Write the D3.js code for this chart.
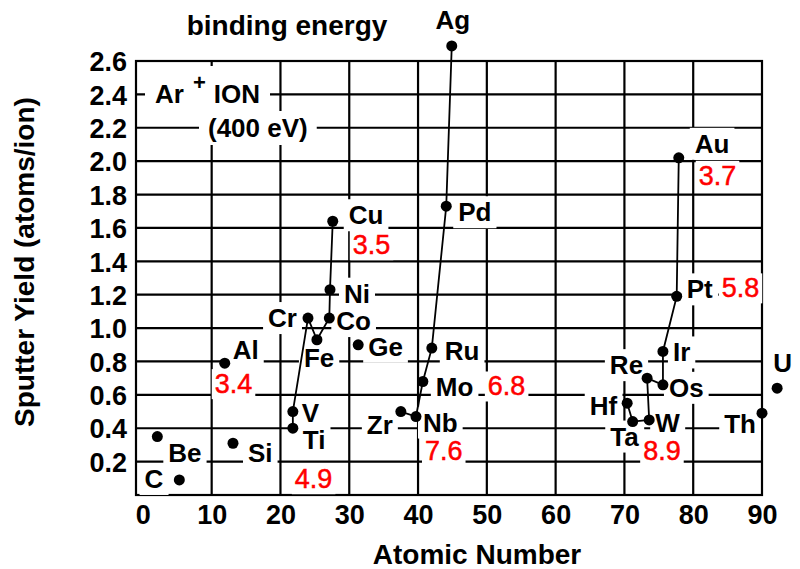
<!doctype html>
<html lang="en">
<head>
<meta charset="utf-8">
<title>Sputter yield vs atomic number</title>
<script src="https://cdn.jsdelivr.net/npm/d3@7"></script>
<style>
  body { margin: 0; background: #fff; }
  svg { display: block; }
  text { font-family: "Liberation Sans", Arial, Helvetica, sans-serif; }
</style>
</head>
<body>
<script>

// Data
var elements = ["Be", "C", "Al", "Si", "Ti", "V", "Cr", "Fe", "Co", "Ni", "Cu", "Ge",
                "Zr", "Nb", "Mo", "Ru", "Pd", "Ag",
                "Hf", "Ta", "W", "Re", "Os", "Ir", "Pt", "Au", "Th", "U"];
var atomicNumber = [2.1, 5.3, 11.9, 13.1, 21.8, 21.8, 24.0, 25.3, 27.1, 27.2, 27.6, 31.3,
                    37.5, 39.7, 40.7, 42.0, 44.1, 44.9,
                    70.4, 71.2, 73.6, 73.3, 75.6, 75.6, 77.6, 77.9, 90.0, 92.2];
var sputterYield = [0.35, 0.09, 0.79, 0.31, 0.40, 0.50, 1.06, 0.93, 1.06, 1.23, 1.64, 0.90,
                    0.50, 0.47, 0.68, 0.88, 1.73, 2.69,
                    0.55, 0.44, 0.45, 0.70, 0.66, 0.86, 1.19, 2.02, 0.49, 0.64];

// connected groups (transition-metal rows)
var rows = [
  ["Ti", "V", "Cr", "Fe", "Co", "Ni", "Cu"],
  ["Zr", "Nb", "Mo", "Ru", "Pd", "Ag"],
  ["Hf", "Ta", "W", "Re", "Os", "Ir", "Pt", "Au"]
];

// binding energy notes (red)
var energyElement = ["Al", "Cu", "Ti", "Mo", "Nb", "Au", "Pt", "W"];
var energyValue = ["3.4", "3.5", "4.9", "6.8", "7.6", "3.7", "5.8", "8.9"];

var xTicks = [0, 10, 20, 30, 40, 50, 60, 70, 80, 90];
var yTicks = [0.2, 0.4, 0.6, 0.8, 1.0, 1.2, 1.4, 1.6, 1.8, 2.0, 2.2, 2.4, 2.6];

// label placement (pixels relative to the dot)
var labelPos = {
  Be: [11, 25, "start"], C: [-16, 8, "end"], Al: [8, -4, "start"], Si: [15, 19, "start"],
  Ti: [10, 21, "start"], V: [9, 10, "start"], Cr: [-11, 9, "end"], Fe: [-13, 27, "start"],
  Co: [7, 12, "start"], Ni: [14, 13, "start"], Cu: [16, 3, "start"], Ge: [10, 11, "start"],
  Zr: [-8, 22, "end"], Nb: [7, 15, "start"], Mo: [13, 15, "start"], Ru: [13, 12, "start"],
  Pd: [12, 15, "start"], Ag: [1, -17, "middle"],
  Hf: [-10, 12, "end"], Ta: [6, 24, "end"], W: [6, 12, "start"], Re: [-4, -4, "end"],
  Os: [6, 12, "start"], Ir: [10, 10, "start"], Pt: [10, 2, "start"], Au: [16, -5, "start"],
  Th: [-6, 20, "end"], U: [-4, -16, "start"]
};
var energyPos = {
  Al: [-10, 30], Cu: [20, 33], Ti: [2, 60], Mo: [65, 14],
  Nb: [9, 43], Au: [20, 27], Pt: [45, 1], W: [-6, 40]
};

var points = elements.map(function(e, i) {
  return {name: e, z: atomicNumber[i], y: sputterYield[i]};
});
var byName = {};
points.forEach(function(p) { byName[p.name] = p; });

// Graphics
var outerWidth = 800, outerHeight = 569;
var plotLeft = 136, plotRight = 762, plotTop = 61, plotBottom = 495;

var svg = d3.select("body").append("svg")
  .attr("width", outerWidth)
  .attr("height", outerHeight);

var xScale = d3.scaleLinear().domain([-1, 90]).range([plotLeft, plotRight]);
var yScale = d3.scaleLinear().domain([0, 2.6]).range([plotBottom, plotTop]);

// grid
var grid = svg.append("g").attr("stroke", "#000").attr("stroke-width", 2.2);
grid.selectAll("line.gx")
  .data(xTicks.filter(function(t) { return t > 0 && t < 90; }))
  .enter().append("line")
  .attr("x1", function(d) { return xScale(d); })
  .attr("x2", function(d) { return xScale(d); })
  .attr("y1", plotTop).attr("y2", plotBottom);
grid.selectAll("line.gy")
  .data(yTicks.filter(function(t) { return t < 2.6; }))
  .enter().append("line")
  .attr("y1", function(d) { return yScale(d); })
  .attr("y2", function(d) { return yScale(d); })
  .attr("x1", plotLeft).attr("x2", plotRight);
grid.append("rect")
  .attr("x", plotLeft).attr("y", plotTop)
  .attr("width", plotRight - plotLeft).attr("height", plotBottom - plotTop)
  .attr("fill", "none");

var bgLayer = svg.append("g");
var markLayer = svg.append("g");
var textLayer = svg.append("g");

function addBg(sel, px, py) {
  sel.each(function() {
    var b = this.getBBox();
    bgLayer.append("rect")
      .attr("x", b.x - px).attr("y", b.y - py)
      .attr("width", b.width + 2 * px).attr("height", b.height + 2 * py)
      .attr("fill", "#fff");
  });
}

// axes (labels only)
var xAxis = d3.axisBottom(xScale).tickValues(xTicks).tickSize(0).tickPadding(0).tickFormat(d3.format("d"));
var yAxis = d3.axisLeft(yScale).tickValues(yTicks).tickSize(0).tickPadding(9).tickFormat(d3.format(".1f"));

var gx = svg.append("g")
  .attr("transform", "translate(0," + plotBottom + ")")
  .call(xAxis);
gx.select(".domain").remove();
gx.selectAll("text")
  .attr("y", 29).attr("dy", 0)
  .attr("font-size", 27).attr("font-weight", "bold")
  .attr("font-family", "Liberation Sans, Arial, sans-serif")
  .attr("fill", "#000");

var gy = svg.append("g")
  .attr("transform", "translate(" + plotLeft + ",0)")
  .call(yAxis);
gy.select(".domain").remove();
gy.selectAll("text")
  .attr("dy", "0.36em")
  .attr("font-size", 27).attr("font-weight", "bold")
  .attr("font-family", "Liberation Sans, Arial, sans-serif")
  .attr("fill", "#000");

// titles
svg.append("text")
  .attr("x", 477).attr("y", 564)
  .attr("text-anchor", "middle")
  .attr("font-size", 28).attr("font-weight", "bold")
  .text("Atomic Number");

svg.append("text")
  .attr("transform", "translate(34,262) rotate(-90)")
  .attr("text-anchor", "middle")
  .attr("font-size", 28).attr("font-weight", "bold")
  .text("Sputter Yield (atoms/ion)");

svg.append("text")
  .attr("x", 287).attr("y", 35)
  .attr("text-anchor", "middle")
  .attr("font-size", 28).attr("font-weight", "bold")
  .text("binding energy");

// Ar+ ION (400 eV)
var ion = textLayer.append("text")
  .attr("x", 155).attr("y", 103)
  .attr("font-size", 26).attr("font-weight", "bold");
ion.append("tspan").text("Ar");
ion.append("tspan").attr("dx", 9).attr("dy", -13).attr("font-size", 22).text("+");
ion.append("tspan").attr("dx", 8).attr("dy", 13).text("ION");
addBg(ion, 10, 4);

var ev = textLayer.append("text")
  .attr("x", 208).attr("y", 137)
  .attr("font-size", 26).attr("font-weight", "bold")
  .text("(400 eV)");
addBg(ev, 9, 2);

// element labels
var labels = textLayer.selectAll("text.el")
  .data(points)
  .enter().append("text")
  .attr("class", "el")
  .attr("x", function(d) { return xScale(d.z) + labelPos[d.name][0]; })
  .attr("y", function(d) { return yScale(d.y) + labelPos[d.name][1]; })
  .attr("text-anchor", function(d) { return labelPos[d.name][2]; })
  .attr("font-size", 26).attr("font-weight", "bold")
  .attr("fill", "#000")
  .text(function(d) { return d.name; });
addBg(labels, 5, 1);

// binding energies
var energies = textLayer.selectAll("text.be")
  .data(energyElement.map(function(e, i) { return {name: e, text: energyValue[i]}; }))
  .enter().append("text")
  .attr("class", "be")
  .attr("x", function(d) { return xScale(byName[d.name].z) + energyPos[d.name][0]; })
  .attr("y", function(d) { return yScale(byName[d.name].y) + energyPos[d.name][1]; })
  .attr("font-size", 27)
  .attr("fill", "#ff0000")
  .attr("stroke", "#ff0000").attr("stroke-width", 0.5)
  .text(function(d) { return d.text; });
addBg(energies, 3, 0);

// connecting lines
var line = d3.line()
  .x(function(d) { return xScale(d.z); })
  .y(function(d) { return yScale(d.y); });

markLayer.selectAll("path.row")
  .data(rows)
  .enter().append("path")
  .attr("class", "row")
  .attr("d", function(r) { return line(r.map(function(n) { return byName[n]; })); })
  .attr("fill", "none")
  .attr("stroke", "#000")
  .attr("stroke-width", 1.8);

markLayer.selectAll("circle")
  .data(points)
  .enter().append("circle")
  .attr("cx", function(d) { return xScale(d.z); })
  .attr("cy", function(d) { return yScale(d.y); })
  .attr("r", 5.5)
  .attr("fill", "#000");

</script>
</body>
</html>
